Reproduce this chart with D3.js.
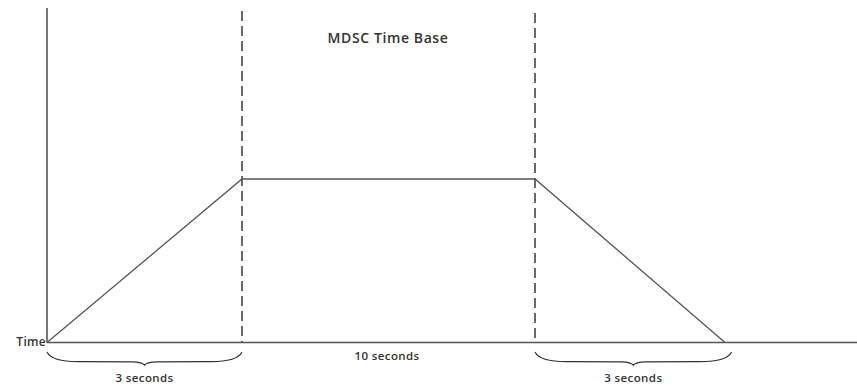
<!DOCTYPE html>
<html><head><meta charset="utf-8">
<script src="https://cdn.jsdelivr.net/npm/d3@7"></script>
<style>body{margin:0;background:#fff}svg{display:block}text{font-family:"Open Sans",sans-serif;font-weight:600}</style>
</head><body><svg id="c" width="857" height="387"></svg>
<script>
// Data
const times = [0, 3, 13, 16];          // seconds (key points of the time base)
const levels = [0, 1, 1, 0];           // relative level at each key point
const dashedAt = [3, 13];              // phase boundaries
const braces = [{from: 0, to: 3, label: "3 seconds"}, {from: 13, to: 16.2, label: "3 seconds"}];
const midLabel = {at: 8, label: "10 seconds"};
const title = "MDSC Time Base";
const axisLabel = "Time";

const svg = d3.select("#c");
const x = d3.scaleLinear().domain([0, 3, 13, 16, 20]).range([47, 242, 535, 725, 857]);
const y = d3.scaleLinear().domain([0, 1, 2]).range([342.5, 179, 8]);
const col = "#555";

// axes
svg.append("line").attr("x1", x(0)).attr("x2", x(0)).attr("y1", y(2)).attr("y2", y(0))
  .attr("stroke", col).attr("stroke-width", 1.6);
svg.append("line").attr("x1", x(0)).attr("x2", x(20)).attr("y1", y(0)).attr("y2", y(0))
  .attr("stroke", col).attr("stroke-width", 1.6);

// dashed
svg.selectAll(".dash").data(dashedAt).enter().append("line")
  .attr("x1", d => x(d)).attr("x2", d => x(d))
  .attr("y1", (d, i) => i === 0 ? 11 : 13).attr("y2", y(0))
  .attr("stroke", "#444").attr("stroke-width", 1.6).attr("stroke-dasharray", "10,5");

// profile
const line = d3.line().x((d, i) => x(times[i])).y(d => y(d));
svg.append("path").datum(levels).attr("d", line).attr("fill", "none")
  .attr("stroke", col).attr("stroke-width", 1.3);

// braces
function bracePath(x0, x1, yTop, h) {
  const m = (x0 + x1) / 2;
  return `M${x0},${yTop} Q${x0 + 5},${yTop + h * 0.85} ${x0 + (m - x0) * 0.35},${yTop + h * 0.8}`
    + ` L${m - 12},${yTop + h * 0.82} Q${m - 2},${yTop + h * 0.85} ${m},${yTop + h * 1.1}`
    + ` Q${m + 2},${yTop + h * 0.85} ${m + 12},${yTop + h * 0.82}`
    + ` L${x1 - (x1 - m) * 0.35},${yTop + h * 0.8} Q${x1 - 5},${yTop + h * 0.85} ${x1},${yTop}`;
}
braces.forEach(b => {
  svg.append("path").attr("d", bracePath(x(b.from), x(b.to), 352, 12))
    .attr("fill", "none").attr("stroke", "#333").attr("stroke-width", 1.2);
  svg.append("text").attr("x", (x(b.from) + x(b.to)) / 2).attr("y", 382)
    .attr("text-anchor", "middle").attr("font-size", 11.5).attr("letter-spacing", 0.4)
    .attr("fill", "#333").text(b.label);
});

svg.append("text").attr("x", 387).attr("y", 359.5).attr("text-anchor", "middle")
  .attr("font-size", 11.5).attr("letter-spacing", 0.4).attr("fill", "#333").text(midLabel.label);

svg.append("text").attr("x", 388).attr("y", 43).attr("text-anchor", "middle")
  .attr("font-size", 14).attr("letter-spacing", 0.6).attr("fill", "#333").text(title);

svg.append("text").attr("x", x(0) - 1).attr("y", 346).attr("text-anchor", "end")
  .attr("font-size", 12).attr("letter-spacing", 0.3).attr("fill", "#333").text(axisLabel);
</script></body></html>
